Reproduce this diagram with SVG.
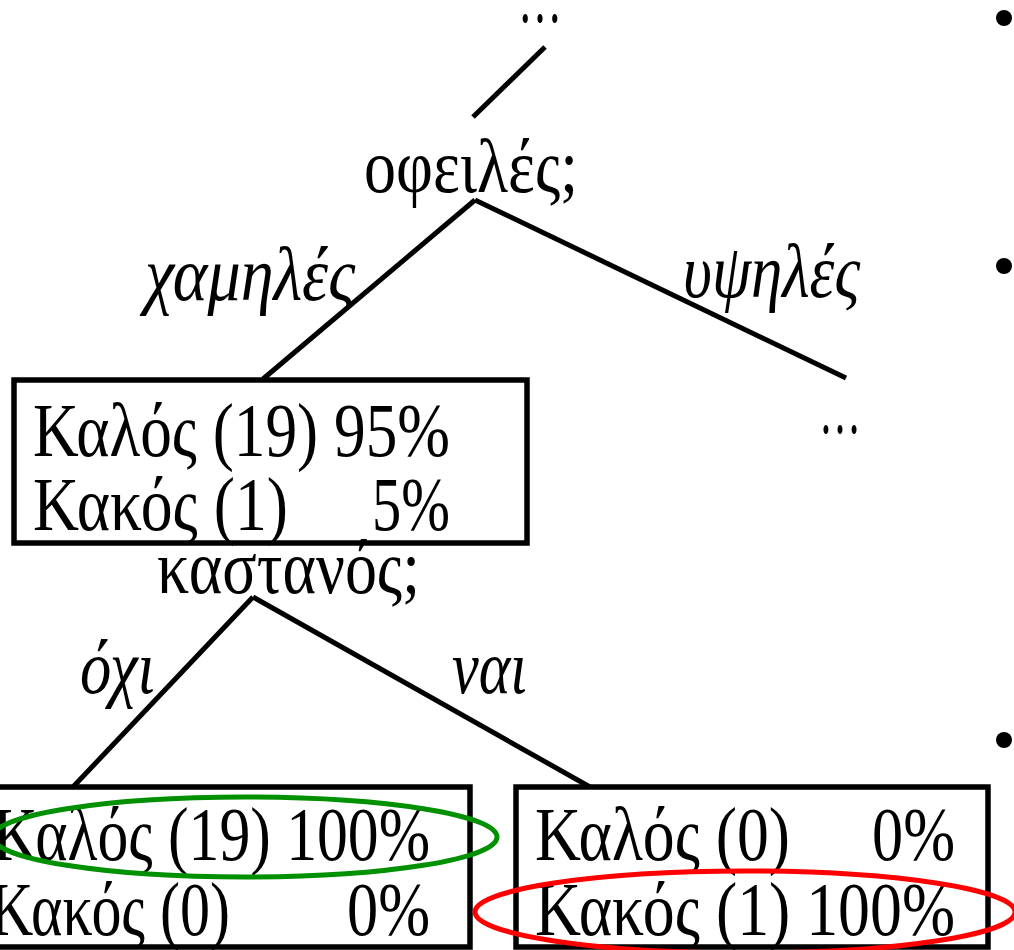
<svg xmlns="http://www.w3.org/2000/svg" width="1014" height="950" viewBox="0 0 1014 950">
<style>
.t{font-family:"Liberation Serif","Times New Roman",serif;font-size:76px;fill:#000}
.i{font-style:italic}
.box{fill:none;stroke:#000;stroke-width:5.5}
.ln{stroke:#000;stroke-width:5;fill:none;stroke-linecap:butt}
.dot{fill:#000}
</style>
<rect width="1014" height="950" fill="#fff"/>
<g id="connectors">
<line class="ln" x1="545" y1="47" x2="473" y2="117"/>
<line class="ln" x1="475" y1="200" x2="263" y2="379"/>
<line class="ln" x1="475" y1="200" x2="846" y2="378"/>
<line class="ln" x1="253" y1="597" x2="72" y2="788"/>
<line class="ln" x1="253" y1="597" x2="590" y2="787"/>
</g>
<g id="top-ellipsis"><text class="t" x="518" y="22" textLength="44" lengthAdjust="spacingAndGlyphs">…</text></g>
<g id="node-ofeiles"><text class="t" x="364" y="192" textLength="214" lengthAdjust="spacingAndGlyphs">οφειλές;</text></g>
<g id="label-xamiles"><text class="t i" x="145" y="300" textLength="210" lengthAdjust="spacingAndGlyphs">χαμηλές</text></g>
<g id="label-ypsiles"><text class="t i" x="683" y="297" textLength="177" lengthAdjust="spacingAndGlyphs">υψηλές</text></g>
<g id="right-ellipsis"><text class="t" x="819" y="433" textLength="42" lengthAdjust="spacingAndGlyphs">…</text></g>
<g id="node-box1">
<rect class="box" x="14" y="380" width="513" height="163"/>
<text class="t" x="33" y="456" textLength="417" lengthAdjust="spacingAndGlyphs">Καλός (19) 95%</text>
<text class="t" x="33" y="530"><tspan textLength="255" lengthAdjust="spacingAndGlyphs">Κακός (1)</tspan><tspan x="372" textLength="78" lengthAdjust="spacingAndGlyphs">5%</tspan></text>
</g>
<g id="node-kastanos"><text class="t" x="157" y="593" textLength="263" lengthAdjust="spacingAndGlyphs">καστανός;</text></g>
<g id="label-oxi"><text class="t i" x="80" y="693" textLength="75" lengthAdjust="spacingAndGlyphs">όχι</text></g>
<g id="label-nai"><text class="t i" x="452" y="693" textLength="75" lengthAdjust="spacingAndGlyphs">ναι</text></g>
<g id="node-box2">
<rect class="box" x="-10" y="787" width="480" height="160"/>
<text class="t" x="-7" y="860" textLength="437" lengthAdjust="spacingAndGlyphs">Καλός (19) 100%</text>
<text class="t" x="-10" y="935"><tspan textLength="240" lengthAdjust="spacingAndGlyphs">Κακός (0)</tspan><tspan x="347" textLength="83" lengthAdjust="spacingAndGlyphs">0%</tspan></text>
</g>
<g id="node-box3">
<rect class="box" x="516" y="787" width="472" height="160"/>
<text class="t" x="535" y="860"><tspan textLength="255" lengthAdjust="spacingAndGlyphs">Καλός (0)</tspan><tspan x="872" textLength="83" lengthAdjust="spacingAndGlyphs">0%</tspan></text>
<text class="t" x="535" y="935" textLength="420" lengthAdjust="spacingAndGlyphs">Κακός (1) 100%</text>
</g>
<g id="highlights">
<ellipse cx="245" cy="837" rx="252" ry="40" fill="none" stroke="#009000" stroke-width="5"/>
<ellipse cx="745" cy="912" rx="270" ry="41" fill="none" stroke="#ff0000" stroke-width="5"/>
</g>
<g id="bullets">
<circle class="dot" cx="1004" cy="18" r="8"/>
<circle class="dot" cx="1004" cy="266" r="8"/>
<circle class="dot" cx="1004" cy="740" r="8"/>
</g>
</svg>
